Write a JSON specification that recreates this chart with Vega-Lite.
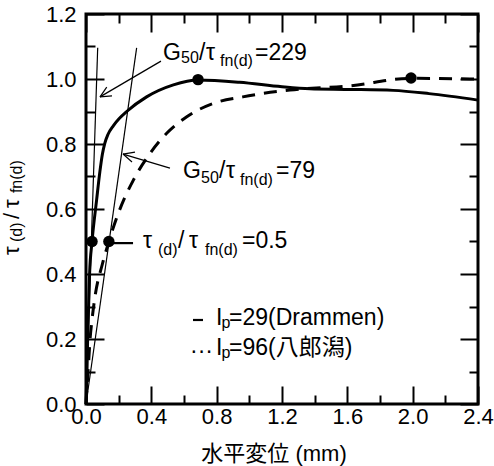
{
  "$schema": "https://vega.github.io/schema/vega-lite/v6.json",
  "width": 392,
  "height": 390,
  "autosize": {"type": "none"},
  "padding": {"left": 86, "top": 14, "right": 16, "bottom": 62},
  "background": "white",
  "config": {
    "view": {"stroke": "black", "strokeWidth": 3},
    "font": "Liberation Sans"
  },
  "encoding": {
    "x": {"field": "x", "type": "quantitative", "scale": {"domain": [0, 2.4], "nice": false, "zero": false}, "axis": null},
    "y": {"field": "y", "type": "quantitative", "scale": {"domain": [0, 1.2], "nice": false, "zero": false}, "axis": null}
  },
  "resolve": {"axis": {"x": "independent", "y": "independent"}},
  "layer": [
    {
      "data": {"values": [
        {"x": 0, "y": 0, "x2": 0.0716, "y2": 1.096},
        {"x": 0, "y": 0, "x2": 0.31, "y2": 1.096}
      ]},
      "mark": {"type": "rule", "color": "black", "strokeWidth": 1.2},
      "encoding": {
        "x": {"field": "x", "type": "quantitative", "scale": {"domain": [0, 2.4], "nice": false, "zero": false},
          "axis": {"orient": "top", "values": [0, 0.4, 0.8, 1.2, 1.6, 2.0, 2.4], "labels": false, "domain": false, "grid": false, "tickSize": -18, "tickWidth": 2, "tickColor": "black", "title": null}},
        "y": {"field": "y", "type": "quantitative", "scale": {"domain": [0, 1.2], "nice": false, "zero": false},
          "axis": {"orient": "right", "values": [0, 0.2, 0.4, 0.6, 0.8, 1.0, 1.2], "labels": false, "domain": false, "grid": false, "tickSize": -18, "tickWidth": 2, "tickColor": "black", "title": null}},
        "x2": {"field": "x2"},
        "y2": {"field": "y2"}
      }
    },
    {
      "data": {"values": [
        {"x": 0.459, "y": 1.055, "x2": 0.0857, "y2": 0.945},
        {"x": 0.159, "y": 0.948, "x2": 0.0857, "y2": 0.945},
        {"x": 0.127, "y": 0.975, "x2": 0.0857, "y2": 0.945},
        {"x": 0.514, "y": 0.726, "x2": 0.2265, "y2": 0.769},
        {"x": 0.2816, "y": 0.7446, "x2": 0.2265, "y2": 0.769},
        {"x": 0.300, "y": 0.775, "x2": 0.2265, "y2": 0.769}
      ]},
      "mark": {"type": "rule", "color": "black", "strokeWidth": 1.2},
      "encoding": {"x2": {"field": "x2"}, "y2": {"field": "y2"}}
    },
    {
      "data": {"values": [
        {"x": 0.159, "y": 0.495, "x2": 0.288, "y2": 0.495},
        {"x": 0.6551, "y": 0.2585, "x2": 0.7163, "y2": 0.2585}
      ]},
      "mark": {"type": "rule", "color": "black", "strokeWidth": 2.2},
      "encoding": {"x2": {"field": "x2"}, "y2": {"field": "y2"}}
    },
    {
      "data": {"values": [
        {"x": 0, "y": 0}, {"x": 0.006, "y": 0.1}, {"x": 0.01, "y": 0.2}, {"x": 0.016, "y": 0.3},
        {"x": 0.022, "y": 0.4}, {"x": 0.037, "y": 0.5}, {"x": 0.065, "y": 0.628}, {"x": 0.085, "y": 0.715},
        {"x": 0.1, "y": 0.768}, {"x": 0.115, "y": 0.802}, {"x": 0.135, "y": 0.83}, {"x": 0.167, "y": 0.856},
        {"x": 0.205, "y": 0.879}, {"x": 0.249, "y": 0.9}, {"x": 0.371, "y": 0.945}, {"x": 0.535, "y": 0.982},
        {"x": 0.686, "y": 0.997}, {"x": 0.94, "y": 0.99}, {"x": 1.2, "y": 0.976}, {"x": 1.37, "y": 0.97},
        {"x": 1.6, "y": 0.968}, {"x": 1.88, "y": 0.965}, {"x": 2.1, "y": 0.955}, {"x": 2.4, "y": 0.935}
      ]},
      "mark": {"type": "line", "color": "black", "strokeWidth": 3, "interpolate": "monotone"},
      "encoding": {
        "x": {"field": "x", "type": "quantitative", "scale": {"domain": [0, 2.4], "nice": false, "zero": false},
          "axis": {"orient": "bottom", "values": [0, 0.4, 0.8, 1.2, 1.6, 2.0, 2.4], "format": ".1f", "domain": false, "grid": false, "tickSize": -18, "tickWidth": 2, "tickColor": "black", "labelFont": "Liberation Sans", "labelFontSize": 22, "labelColor": "black", "labelPadding": 20, "labelFlush": false, "labelOverlap": false, "title": null}},
        "y": {"field": "y", "type": "quantitative", "scale": {"domain": [0, 1.2], "nice": false, "zero": false},
          "axis": {"orient": "left", "values": [0, 0.2, 0.4, 0.6, 0.8, 1.0, 1.2], "format": ".1f", "domain": false, "grid": false, "tickSize": -18, "tickWidth": 2, "tickColor": "black", "labelFont": "Liberation Sans", "labelFontSize": 22, "labelColor": "black", "labelPadding": 28, "labelFlush": false, "labelOverlap": false, "title": null}}
      }
    },
    {
      "data": {"values": [
        {"x": 0, "y": 0}, {"x": 0.006, "y": 0.05}, {"x": 0.015, "y": 0.12}, {"x": 0.025, "y": 0.2},
        {"x": 0.037, "y": 0.26}, {"x": 0.055, "y": 0.33}, {"x": 0.1, "y": 0.43}, {"x": 0.14, "y": 0.5},
        {"x": 0.198, "y": 0.587}, {"x": 0.29, "y": 0.689}, {"x": 0.392, "y": 0.771}, {"x": 0.494, "y": 0.833},
        {"x": 0.617, "y": 0.884}, {"x": 0.78, "y": 0.925}, {"x": 0.96, "y": 0.945}, {"x": 1.249, "y": 0.966},
        {"x": 1.616, "y": 0.979}, {"x": 1.99, "y": 1.002}, {"x": 2.4, "y": 1.0}
      ]},
      "mark": {"type": "line", "color": "black", "strokeWidth": 3, "strokeDash": [13, 9], "interpolate": "monotone"},
      "encoding": {
        "x": {"field": "x", "type": "quantitative", "scale": {"domain": [0, 2.4], "nice": false, "zero": false},
          "axis": {"orient": "bottom", "values": [0.2, 0.6, 1.0, 1.4, 1.8, 2.2], "labels": false, "domain": false, "grid": false, "tickSize": -9, "tickWidth": 2, "tickColor": "black", "title": null}},
        "y": {"field": "y", "type": "quantitative", "scale": {"domain": [0, 1.2], "nice": false, "zero": false},
          "axis": {"orient": "left", "values": [0.1, 0.3, 0.5, 0.7, 0.9, 1.1], "labels": false, "domain": false, "grid": false, "tickSize": -9, "tickWidth": 2, "tickColor": "black", "title": null}}
      }
    },
    {
      "data": {"values": [
        {"x": 0.037, "y": 0.5}, {"x": 0.14, "y": 0.5}, {"x": 0.686, "y": 0.998}, {"x": 1.99, "y": 1.003}
      ]},
      "mark": {"type": "point", "filled": true, "color": "black", "opacity": 1, "size": 130},
      "encoding": {
        "x": {"field": "x", "type": "quantitative", "scale": {"domain": [0, 2.4], "nice": false, "zero": false},
          "axis": {"orient": "top", "values": [0.2, 0.6, 1.0, 1.4, 1.8, 2.2], "labels": false, "domain": false, "grid": false, "tickSize": -9, "tickWidth": 2, "tickColor": "black", "title": null}},
        "y": {"field": "y", "type": "quantitative", "scale": {"domain": [0, 1.2], "nice": false, "zero": false},
          "axis": {"orient": "right", "values": [0.1, 0.3, 0.5, 0.7, 0.9, 1.1], "labels": false, "domain": false, "grid": false, "tickSize": -9, "tickWidth": 2, "tickColor": "black", "title": null}}
      }
    },
    {
      "data": {"values": [
        {"x": 0.4714, "y": 1.0585, "t": "G"},
        {"x": 0.6918, "y": 1.0585, "t": "/"},
        {"x": 0.7347, "y": 1.0585, "t": "τ"},
        {"x": 1.0347, "y": 1.0585, "t": "=229"},
        {"x": 0.5939, "y": 0.6954, "t": "G"},
        {"x": 0.8143, "y": 0.6954, "t": "/"},
        {"x": 0.8571, "y": 0.6954, "t": "τ"},
        {"x": 1.1633, "y": 0.6954, "t": "=79"},
        {"x": 0.349, "y": 0.48, "t": "τ"},
        {"x": 0.5633, "y": 0.48, "t": "/"},
        {"x": 0.6306, "y": 0.48, "t": "τ"},
        {"x": 0.955, "y": 0.48, "t": "=0.5"},
        {"x": 0.7959, "y": 0.243, "t": "I"},
        {"x": 0.8755, "y": 0.243, "t": "=29(Drammen)"},
        {"x": 0.6367, "y": 0.1415, "t": "···"},
        {"x": 0.7959, "y": 0.151, "t": "I"},
        {"x": 0.8755, "y": 0.151, "t": "=96(八郎潟)"}
      ]},
      "mark": {"type": "text", "align": "left", "baseline": "alphabetic", "font": "Liberation Sans, Noto Sans CJK JP", "fontSize": 23, "color": "black"},
      "encoding": {"text": {"field": "t"}}
    },
    {
      "data": {"values": [
        {"x": 0.5816, "y": 1.0477, "t": "50"},
        {"x": 0.8204, "y": 1.0385, "t": "fn(d)"},
        {"x": 0.7041, "y": 0.679, "t": "50"},
        {"x": 0.9429, "y": 0.6738, "t": "fn(d)"},
        {"x": 0.4408, "y": 0.4585, "t": "(d)"},
        {"x": 0.7286, "y": 0.4585, "t": "fn(d)"},
        {"x": 0.8296, "y": 0.234, "t": "p"},
        {"x": 0.8296, "y": 0.1415, "t": "p"}
      ]},
      "mark": {"type": "text", "align": "left", "baseline": "alphabetic", "font": "Liberation Sans", "fontSize": 16, "color": "black"},
      "encoding": {"text": {"field": "t"}}
    },
    {
      "data": {"values": [
        {"x": -0.41, "y": 0.4585, "t": "τ"},
        {"x": -0.41, "y": 0.569, "t": "/"},
        {"x": -0.41, "y": 0.603, "t": "τ"}
      ]},
      "mark": {"type": "text", "align": "left", "baseline": "alphabetic", "angle": 270, "font": "Liberation Sans", "fontSize": 22, "color": "black"},
      "encoding": {"text": {"field": "t"}}
    },
    {
      "data": {"values": [
        {"x": -0.392, "y": 0.4985, "t": "(d)"},
        {"x": -0.392, "y": 0.649, "t": "fn(d)"}
      ]},
      "mark": {"type": "text", "align": "left", "baseline": "alphabetic", "angle": 270, "font": "Liberation Sans", "fontSize": 16, "color": "black"},
      "encoding": {"text": {"field": "t"}}
    },
    {
      "data": {"values": [
        {"x": 1.151, "y": -0.1754, "t": "水平変位 (mm)"}
      ]},
      "mark": {"type": "text", "align": "center", "baseline": "alphabetic", "font": "Liberation Sans, Noto Sans CJK JP", "fontSize": 22, "color": "black"},
      "encoding": {"text": {"field": "t"}}
    }
  ]
}
